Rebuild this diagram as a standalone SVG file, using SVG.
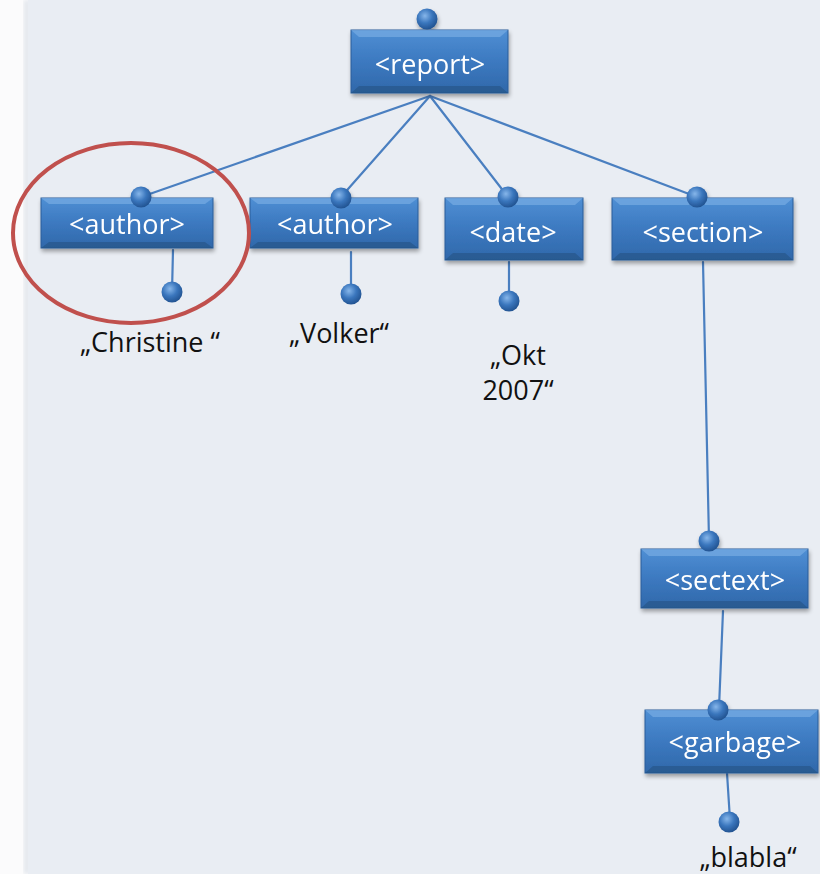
<svg xmlns="http://www.w3.org/2000/svg" width="820" height="874" viewBox="0 0 820 874">
  <defs>
    <linearGradient id="boxFill" x1="0" y1="0" x2="0" y2="1">
      <stop offset="0" stop-color="#4f8fd4"/>
      <stop offset="0.5" stop-color="#3c79c0"/>
      <stop offset="1" stop-color="#3068aa"/>
    </linearGradient>
    <radialGradient id="dotFill" cx="0.4" cy="0.35" r="0.7">
      <stop offset="0" stop-color="#86b6ea"/>
      <stop offset="0.5" stop-color="#3a76bd"/>
      <stop offset="1" stop-color="#1f4f8c"/>
    </radialGradient>
    <filter id="shadow" x="-10%" y="-20%" width="120%" height="150%">
      <feGaussianBlur in="SourceAlpha" stdDeviation="2"/>
      <feOffset dx="1" dy="3"/>
      <feComponentTransfer><feFuncA type="linear" slope="0.35"/></feComponentTransfer>
      <feMerge><feMergeNode/><feMergeNode in="SourceGraphic"/></feMerge>
    </filter>
    <filter id="edgeBlur"><feGaussianBlur stdDeviation="2"/></filter>
  </defs>
  <style>
    .box { fill: url(#boxFill); stroke: #2a5c99; stroke-width: 1; }
    .bevelTop { fill: #74aae2; opacity: 0.75; }
    .bevelBot { fill: #23507f; opacity: 0.55; }
    .dot { fill: url(#dotFill); }
    .tag { font-family: "Open Sans", "Liberation Sans", sans-serif; font-size: 27px; fill: #ffffff; text-anchor: middle; }
    .val { font-family: "Open Sans", "Liberation Sans", sans-serif; font-size: 27px; fill: #111111; text-anchor: middle; }
    .edge { stroke: #4a7fc0; stroke-width: 2.2; fill: none; stroke-linecap: round; }
  </style>

  <!-- page background -->
  <rect x="0" y="0" width="820" height="874" fill="#fbfbfc"/>
  <rect x="24" y="0" width="6" height="874" fill="#e2e6ec" filter="url(#edgeBlur)"/>
  <rect x="28" y="0" width="792" height="874" fill="#e9edf3"/>

  <!-- connectors -->
  <g id="connectors">
    <line class="edge" x1="430" y1="96" x2="141" y2="197"/>
    <line class="edge" x1="430" y1="96" x2="341" y2="197"/>
    <line class="edge" x1="430" y1="96" x2="508" y2="197"/>
    <line class="edge" x1="430" y1="96" x2="697" y2="197"/>
    <line class="edge" x1="173" y1="250" x2="172" y2="292"/>
    <line class="edge" x1="351" y1="252" x2="351" y2="294"/>
    <line class="edge" x1="509" y1="262" x2="509" y2="301"/>
    <line class="edge" x1="703" y1="262" x2="709" y2="540"/>
    <line class="edge" x1="723" y1="611" x2="719" y2="708"/>
    <line class="edge" x1="727" y1="773" x2="730" y2="820"/>
  </g>

  <!-- nodes -->
  <g id="report" filter="url(#shadow)">
    <rect class="box" x="351" y="30" width="157" height="63"/>
    <polygon class="bevelTop" points="351,30 508,30 500,37 359,37"/>
    <polygon class="bevelBot" points="351,93 508,93 500,86 359,86"/>
    <circle class="dot" cx="427" cy="19" r="10.5"/>
    <text class="tag" x="430" y="74">&lt;report&gt;</text>
  </g>

  <g id="author1" filter="url(#shadow)">
    <rect class="box" x="41" y="198" width="172" height="50"/>
    <polygon class="bevelTop" points="41,198 213,198 205,204 49,204"/>
    <polygon class="bevelBot" points="41,248 213,248 205,242 49,242"/>
    <circle class="dot" cx="141" cy="197" r="10.5"/>
    <text class="tag" x="127" y="234">&lt;author&gt;</text>
  </g>
  <circle class="dot" cx="172" cy="292" r="10.5"/>

  <g id="author2" filter="url(#shadow)">
    <rect class="box" x="250" y="198" width="168" height="50"/>
    <polygon class="bevelTop" points="250,198 418,198 410,204 258,204"/>
    <polygon class="bevelBot" points="250,248 418,248 410,242 258,242"/>
    <circle class="dot" cx="341" cy="198" r="10.5"/>
    <text class="tag" x="335" y="234">&lt;author&gt;</text>
  </g>
  <circle class="dot" cx="351" cy="294" r="10.5"/>

  <g id="date" filter="url(#shadow)">
    <rect class="box" x="445" y="198" width="138" height="62"/>
    <polygon class="bevelTop" points="445,198 583,198 575,205 453,205"/>
    <polygon class="bevelBot" points="445,260 583,260 575,253 453,253"/>
    <circle class="dot" cx="508" cy="197" r="10.5"/>
    <text class="tag" x="513" y="242">&lt;date&gt;</text>
  </g>
  <circle class="dot" cx="509" cy="301" r="10.5"/>

  <g id="section" filter="url(#shadow)">
    <rect class="box" x="612" y="198" width="181" height="62"/>
    <polygon class="bevelTop" points="612,198 793,198 785,205 620,205"/>
    <polygon class="bevelBot" points="612,260 793,260 785,253 620,253"/>
    <circle class="dot" cx="697" cy="197" r="10.5"/>
    <text class="tag" x="703" y="242">&lt;section&gt;</text>
  </g>

  <g id="sectext" filter="url(#shadow)">
    <rect class="box" x="641" y="549" width="167" height="59"/>
    <polygon class="bevelTop" points="641,549 808,549 800,556 649,556"/>
    <polygon class="bevelBot" points="641,608 808,608 800,601 649,601"/>
    <circle class="dot" cx="709" cy="541" r="10.5"/>
    <text class="tag" x="725" y="590">&lt;sectext&gt;</text>
  </g>

  <g id="garbage" filter="url(#shadow)">
    <rect class="box" x="645" y="710" width="173" height="63"/>
    <polygon class="bevelTop" points="645,710 818,710 810,717 653,717"/>
    <polygon class="bevelBot" points="645,773 818,773 810,766 653,766"/>
    <circle class="dot" cx="718" cy="710" r="10.5"/>
    <text class="tag" x="735" y="752">&lt;garbage&gt;</text>
  </g>
  <circle class="dot" cx="729" cy="822" r="10.5"/>

  <!-- text values -->
  <g id="values">
    <text class="val" x="150" y="352">„Christine “</text>
    <text class="val" x="339" y="343">„Volker“</text>
    <text class="val" x="518" y="365">„Okt</text>
    <text class="val" x="518" y="400">2007“</text>
    <text class="val" x="748" y="867">„blabla“</text>
  </g>

  <!-- highlight ring -->
  <ellipse id="highlight" cx="131" cy="233" rx="118" ry="90" fill="none" stroke="#c0504d" stroke-width="4"/>
</svg>
